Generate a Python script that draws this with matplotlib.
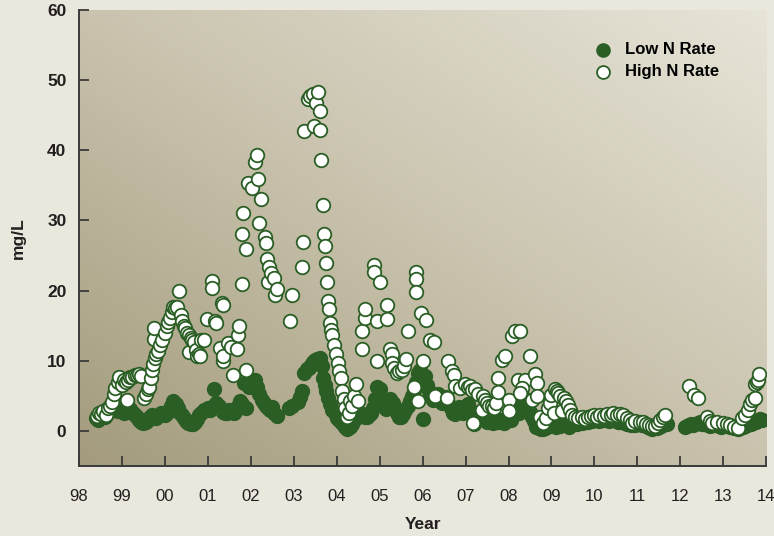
import numpy as np
import matplotlib.pyplot as plt
from matplotlib.colors import LinearSegmentedColormap

plt.rcParams['font.family'] = ['Liberation Sans', 'DejaVu Sans']

# Low N Rate (year, mg/L)
low_x = [1998.40, 1998.45, 1998.50, 1998.55, 1998.60, 1998.65, 1998.70, 1998.75, 1998.80, 1998.85,
         1998.90, 1998.95, 1999.00, 1999.05, 1999.10, 1999.15, 1999.20, 1999.25, 1999.30, 1999.35,
         1999.40, 1999.45, 1999.50, 1999.55, 1999.60, 1999.65, 1999.70, 1999.75, 1999.80, 1999.85,
         1999.90, 1999.95, 2000.00, 2000.05, 2000.10, 2000.15, 2000.20, 2000.25, 2000.30, 2000.35,
         2000.40, 2000.45, 2000.50, 2000.55, 2000.60, 2000.65, 2000.70, 2000.75, 2000.80, 2000.85,
         2000.90, 2000.95, 2001.00, 2001.05, 2001.10, 2001.15, 2001.20, 2001.25, 2001.30, 2001.35,
         2001.40, 2001.45, 2001.50, 2001.55, 2001.60, 2001.65, 2001.70, 2001.75, 2001.80, 2001.85,
         2001.90, 2001.95, 2002.00, 2002.05, 2002.10, 2002.15, 2002.20, 2002.25, 2002.30, 2002.35,
         2002.40, 2002.45, 2002.50, 2002.55, 2002.60, 2002.90, 2002.95, 2003.10, 2003.15, 2003.20,
         2003.25, 2003.30, 2003.35, 2003.40, 2003.45, 2003.50, 2003.55, 2003.60, 2003.65, 2003.68,
         2003.72, 2003.75, 2003.80, 2003.85, 2003.90, 2003.95, 2004.00, 2004.05, 2004.10, 2004.15,
         2004.20, 2004.25, 2004.30, 2004.35, 2004.40, 2004.45, 2004.50, 2004.55, 2004.60, 2004.65,
         2004.70, 2004.75, 2004.80, 2004.85, 2004.90, 2004.95, 2005.00, 2005.05, 2005.10, 2005.15,
         2005.20, 2005.25, 2005.30, 2005.35, 2005.40, 2005.45, 2005.50, 2005.55, 2005.60, 2005.65,
         2005.70, 2005.75, 2005.80, 2005.85, 2005.90, 2005.95, 2006.00, 2006.05, 2006.10, 2006.15,
         2006.20, 2006.25, 2006.30, 2006.35, 2006.40, 2006.45, 2006.50, 2006.55, 2006.60, 2006.65,
         2006.70, 2006.75, 2006.80, 2006.85, 2006.90, 2006.95, 2007.00, 2007.05, 2007.10, 2007.15,
         2007.20, 2007.25, 2007.30, 2007.35, 2007.40, 2007.45, 2007.50, 2007.55, 2007.60, 2007.65,
         2007.70, 2007.75, 2007.80, 2007.85, 2007.90, 2007.95, 2008.00, 2008.05, 2008.10, 2008.15,
         2008.20, 2008.25, 2008.30, 2008.35, 2008.40, 2008.45, 2008.50, 2008.55, 2008.60, 2008.65,
         2008.70, 2008.75, 2008.80, 2008.85, 2008.90, 2008.95, 2009.00, 2009.05, 2009.10, 2009.15,
         2009.20, 2009.25, 2009.30, 2009.35, 2009.40, 2009.45, 2009.50, 2009.55, 2009.60, 2009.65,
         2009.70, 2009.75, 2009.80, 2009.85, 2009.90, 2009.95, 2010.00, 2010.05, 2010.10, 2010.15,
         2010.20, 2010.25, 2010.30, 2010.35, 2010.40, 2010.45, 2010.50, 2010.55, 2010.60, 2010.65,
         2010.70, 2010.75, 2010.80, 2010.85, 2010.90, 2010.95, 2011.00, 2011.05, 2011.10, 2011.15,
         2011.20, 2011.25, 2011.30, 2011.35, 2011.40, 2011.45, 2011.50, 2011.55, 2011.60, 2011.65,
         2011.70, 2012.10, 2012.15, 2012.20, 2012.25, 2012.30, 2012.35, 2012.40, 2012.45, 2012.50,
         2012.55, 2012.60, 2012.65, 2012.70, 2012.75, 2012.80, 2012.85, 2012.90, 2012.95, 2013.00,
         2013.05, 2013.10, 2013.15, 2013.20, 2013.25, 2013.30, 2013.35, 2013.40, 2013.45, 2013.50,
         2013.55, 2013.60, 2013.65, 2013.70, 2013.75, 2013.80, 2013.85, 2013.90]
low_y = [1.8, 1.6, 1.9, 2.2, 2.0, 2.4, 2.8, 3.0, 3.2, 3.0,
         2.8, 3.3, 3.0, 2.6, 2.9, 3.4, 3.1, 2.5, 2.2, 2.0,
         1.6, 1.3, 1.1, 1.2, 1.5, 1.9, 2.2, 2.0, 1.8, 2.1,
         2.5, 2.4, 2.2, 2.6, 3.0, 3.6, 4.3, 3.8, 3.2, 2.6,
         2.2, 1.8, 1.4, 1.1, 0.9, 1.0, 1.3, 1.7, 2.2, 2.6,
         2.9, 3.0, 3.2, 3.0, 3.4, 5.9, 4.0, 3.6, 3.1, 2.7,
         2.5, 2.6, 2.9, 2.7, 2.5, 3.0, 3.6, 4.3, 3.8, 6.8,
         3.2, 6.3, 7.2, 6.9, 7.3, 6.2, 5.2, 4.4, 4.0, 3.6,
         3.2, 2.9, 3.4, 2.6, 2.1, 3.3, 3.6, 4.1, 4.8, 5.6,
         8.3, 8.8, 9.0, 9.4, 9.8, 10.1, 10.3, 10.4, 9.2, 7.5,
         6.5, 5.6, 4.6, 3.8, 3.0, 2.5, 1.8, 1.5, 1.2, 1.0,
         0.5, 0.2, 0.5, 1.0, 1.5, 1.8, 2.1, 2.6, 2.4, 2.0,
         1.9, 2.3, 2.6, 3.2, 4.5, 6.3, 6.0, 4.3, 3.5, 3.1,
         3.8, 4.5, 4.0, 3.3, 2.6, 2.0, 1.9, 2.4, 3.0, 3.6,
         4.3, 5.0, 5.8, 7.0, 8.2, 8.6, 1.7, 7.8, 6.5, 5.6,
         4.8, 4.4, 4.9, 5.3, 4.5, 3.9, 4.3, 4.8, 4.0, 3.3,
         2.6, 2.4, 2.9, 3.4, 3.0, 2.6, 3.2, 3.8, 3.0, 2.4,
         0.9, 1.8, 2.5, 2.8, 2.0, 1.5, 1.3, 1.2, 1.4, 1.1,
         1.3, 1.2, 1.5, 1.3, 1.1, 1.4, 1.9, 1.6, 2.8, 3.5,
         3.0, 2.5, 3.6, 4.6, 3.9, 3.2, 2.7, 2.0, 1.4, 0.6,
         0.4, 0.3, 0.2, 0.4, 0.5, 1.2, 1.5, 0.8, 0.6, 1.0,
         0.7, 1.1, 2.0, 1.2, 0.5, 0.8, 0.9, 1.1, 1.0, 1.2,
         1.1, 1.3, 1.2, 1.3, 1.5, 1.4, 1.5, 1.6, 1.4, 1.5,
         1.6, 1.7, 1.5, 1.4, 1.6, 1.8, 1.5, 1.3, 1.2, 1.4,
         1.1, 0.9, 1.0, 0.8, 0.9, 0.8, 1.0, 0.9, 0.8, 1.0,
         0.7, 0.5, 0.4, 0.3, 0.5, 0.4, 0.6, 0.7, 0.9, 1.0,
         0.9, 0.6, 0.7, 0.8, 0.9, 0.8, 1.0, 1.1, 1.2, 1.0,
         0.9, 1.1, 0.8, 0.7, 0.8, 0.9, 0.8, 0.7, 0.6, 0.8,
         0.9, 0.7, 0.6, 0.5, 0.4, 0.5, 0.3, 0.4, 0.6, 0.7,
         0.8, 0.9, 1.0, 1.2, 1.3, 1.5, 1.7, 1.6]

# High N Rate (year, mg/L)
high_x = [1998.42, 1998.47, 1998.52, 1998.57, 1998.62, 1998.67, 1998.72, 1998.77, 1998.82, 1998.85,
          1998.90, 1998.93, 1999.00, 1999.05, 1999.09, 1999.11, 1999.15, 1999.20, 1999.23, 1999.30,
          1999.35, 1999.40, 1999.45, 1999.52, 1999.56, 1999.60, 1999.63, 1999.67, 1999.70, 1999.73,
          1999.77, 1999.80, 1999.84, 1999.75, 1999.75, 1999.88, 1999.93, 2000.00, 2000.05, 2000.08,
          2000.12, 2000.16, 2000.20, 2000.24, 2000.29, 2000.33, 2000.37, 2000.40, 2000.44, 2000.47,
          2000.52, 2000.56, 2000.56, 2000.60, 2000.64, 2000.68, 2000.72, 2000.75, 2000.80, 2000.82,
          2000.84, 2000.90, 2000.97, 2001.09, 2001.09, 2001.17, 2001.20, 2001.28, 2001.32, 2001.35,
          2001.35, 2001.36, 2001.48, 2001.55, 2001.59, 2001.69, 2001.71, 2001.73, 2001.79, 2001.79,
          2001.81, 2001.88, 2001.90, 2001.94, 2002.02, 2002.10, 2002.14, 2002.17, 2002.19, 2002.24,
          2002.32, 2002.36, 2002.37, 2002.41, 2002.43, 2002.48, 2002.53, 2002.56, 2002.60, 2002.91,
          2002.95, 2003.20, 2003.22, 2003.24, 2003.33, 2003.38, 2003.45, 2003.52, 2003.48, 2003.57,
          2003.61, 2003.60, 2003.64, 2003.69, 2003.71, 2003.73, 2003.75, 2003.77, 2003.80, 2003.82,
          2003.84, 2003.86, 2003.90, 2003.94, 2003.98, 2004.02, 2004.06, 2004.10, 2004.13, 2004.16,
          2004.20, 2004.24, 2004.28, 2004.32, 2004.36, 2004.40, 2004.46, 2004.50, 2004.58, 2004.60,
          2004.66, 2004.67, 2004.88, 2004.87, 2005.00, 2004.93, 2005.16, 2005.18, 2004.93, 2005.24,
          2005.28, 2005.28, 2005.34, 2005.40, 2005.46, 2005.51, 2005.56, 2005.62, 2005.65, 2005.85,
          2005.85, 2005.85, 2005.97, 2006.08, 2006.00, 2006.18, 2006.26, 2005.80, 2005.90, 2006.30,
          2006.60, 2006.68, 2006.72, 2006.76, 2006.56, 2006.87, 2006.99, 2007.05, 2007.10, 2007.16,
          2007.22, 2007.18, 2007.30, 2007.38, 2007.41, 2007.46, 2007.50, 2007.55, 2007.61, 2007.66,
          2007.70, 2007.76, 2007.76, 2007.84, 2007.92, 2008.00, 2008.00, 2008.08, 2008.15, 2008.27,
          2008.23, 2008.39, 2008.31, 2008.27, 2008.49, 2008.55, 2008.62, 2008.66, 2008.66, 2008.73,
          2008.81, 2008.88, 2008.92, 2008.97, 2009.00, 2009.05, 2009.08, 2009.12, 2009.16, 2009.20,
          2009.24, 2009.28, 2009.33, 2009.38, 2009.43, 2009.48, 2009.55, 2009.62, 2009.70, 2009.78,
          2009.85, 2009.92, 2009.98, 2010.05, 2010.12, 2010.22, 2010.30, 2010.38, 2010.44, 2010.52,
          2010.60, 2010.67, 2010.75, 2010.82, 2010.87, 2010.95, 2011.06, 2011.12, 2011.20, 2011.27,
          2011.34, 2011.41, 2011.47, 2011.53, 2011.59, 2011.65, 2012.21, 2012.32, 2012.42, 2012.62,
          2012.68, 2012.73, 2012.85, 2013.00, 2013.08, 2013.15, 2013.25, 2013.35, 2013.43, 2013.50,
          2013.58, 2013.62, 2013.66, 2013.74, 2013.74, 2013.78, 2013.80, 2013.82]
high_y = [2.1, 2.6, 2.4, 2.8, 2.3, 3.2, 3.6, 4.1, 5.2, 6.1,
          7.0, 7.6, 6.5, 7.2, 6.9, 4.4, 7.3, 7.6, 7.7, 7.9,
          8.0, 8.1, 7.8, 4.7, 5.3, 6.0, 6.3, 7.5, 8.6, 9.5,
          10.4, 11.0, 11.4, 13.1, 14.7, 12.2, 13.0, 14.0, 14.9, 15.5,
          16.1, 17.0, 17.7, 17.5, 17.7, 19.9, 16.5, 15.6, 15.0, 14.6,
          14.0, 13.7, 11.3, 13.2, 12.9, 12.7, 11.5, 10.7, 11.0, 10.6,
          13.0, 12.9, 15.9, 21.3, 20.4, 15.6, 15.4, 11.8, 18.2, 18.0,
          9.9, 10.6, 12.5, 12.0, 8.0, 11.7, 13.6, 15.0, 20.9, 28.1,
          31.1, 8.6, 25.9, 35.4, 34.7, 38.3, 39.4, 35.9, 29.6, 33.1,
          27.7, 26.8, 24.5, 21.2, 23.4, 22.5, 21.8, 19.4, 20.2, 15.6,
          19.3, 23.3, 26.9, 42.8, 47.3, 47.8, 48.0, 46.7, 43.5, 48.3,
          45.6, 42.9, 38.6, 32.2, 28.1, 26.4, 24.0, 21.2, 18.5, 17.4,
          15.4, 14.4, 13.6, 12.3, 10.9, 9.7, 8.5, 7.5, 5.6, 4.5,
          3.2, 2.0, 2.6, 4.2, 3.5, 5.0, 6.6, 4.2, 11.6, 14.2,
          16.1, 17.3, 23.7, 22.6, 21.2, 15.6, 18.0, 16.0, 9.9, 11.7,
          10.9, 9.7, 9.0, 8.2, 8.5, 8.7, 9.3, 10.2, 14.2, 22.6,
          21.6, 19.8, 16.8, 15.8, 9.9, 13.0, 12.7, 6.3, 4.3, 4.9,
          9.9, 8.5, 7.9, 6.4, 4.7, 6.1, 6.6, 6.2, 6.4, 5.8,
          6.0, 1.1, 5.3, 3.0, 4.9, 4.4, 3.9, 3.6, 3.5, 3.2,
          4.0, 7.5, 5.5, 10.1, 10.6, 4.4, 2.8, 13.5, 14.2, 14.3,
          7.3, 7.2, 6.1, 5.4, 10.7, 4.4, 8.1, 6.8, 5.0, 2.0,
          1.1, 1.8, 3.2, 4.0, 5.1, 2.5, 5.9, 5.6, 5.4, 5.0,
          2.8, 4.6, 4.2, 3.7, 3.0, 2.3, 2.0, 1.8, 1.9, 1.7,
          1.9, 2.1, 2.3, 2.0, 2.2, 2.1, 2.4, 2.3, 2.5, 2.2,
          2.4, 2.3, 1.8, 1.5, 1.1, 1.4, 1.3, 1.2, 1.0, 0.8,
          0.7, 0.7, 1.1, 1.6, 2.0, 2.3, 6.4, 5.1, 4.7, 2.0,
          1.4, 1.1, 1.2, 1.1, 0.9, 0.8, 0.6, 0.4, 1.8, 2.2,
          3.0, 3.8, 4.4, 4.7, 6.6, 7.0, 7.3, 8.1]

year_ticks = list(range(1998, 2015))
year_labels = ['%02d' % (y % 100) for y in year_ticks]

green = '#2a5e24'

fig = plt.figure(figsize=(7.74, 5.36), dpi=100, facecolor='#eae7dc')
ax = fig.add_axes([0.102, 0.131, 0.888, 0.850])

# diagonal background gradient, dark lower left to pale upper right
u, v = np.meshgrid(np.linspace(0, 1, 200), np.linspace(0, 1, 200))
grad = (u + v) / 2.0
bgmap = LinearSegmentedColormap.from_list('bg', ['#a39b7c', '#c9c3ae', '#e7e4d8'])
ax.imshow(grad, cmap=bgmap, origin='lower', extent=[0, 1, 0, 1],
          transform=ax.transAxes, aspect='auto', zorder=0, interpolation='bilinear')

ax.scatter(low_x, low_y, s=100, color=green, edgecolors=green, linewidths=1.0,
           zorder=2, label='Low N Rate')
ax.scatter(high_x, high_y, s=95, color='white', edgecolors=green, linewidths=1.3,
           zorder=3, label='High N Rate')

ax.set_xlim(1998, 2014)
ax.set_ylim(-5, 60)
ax.set_xticks(year_ticks)
ax.set_xticklabels(year_labels)
ax.set_yticks(range(0, 61, 10))

for s in ['top', 'right']:
    ax.spines[s].set_visible(False)
for s in ['left', 'bottom']:
    ax.spines[s].set_color('#3a3a3a')
    ax.spines[s].set_linewidth(1.4)

ax.tick_params(axis='both', direction='in', length=7, width=1.3, color='#3a3a3a',
               labelcolor='#231f20', labelsize=12.5)
ax.tick_params(axis='x', pad=17, labelsize=12)
ax.tick_params(axis='y', pad=9)
for t in ax.get_yticklabels():
    t.set_fontweight('bold')

ax.set_xlabel('Year', fontsize=12.5, fontweight='bold', color='#231f20', labelpad=9)
ax.set_ylabel('mg/L', fontsize=12.5, fontweight='bold', color='#231f20', labelpad=15)

ax.legend(loc='upper left', bbox_to_anchor=(0.728, 0.945), frameon=False,
          prop={'weight': 'bold', 'size': 12}, handletextpad=0.35,
          labelspacing=0.45, borderaxespad=0, markerscale=0.95)

fig.savefig('out.png', dpi=100, facecolor=fig.get_facecolor())
